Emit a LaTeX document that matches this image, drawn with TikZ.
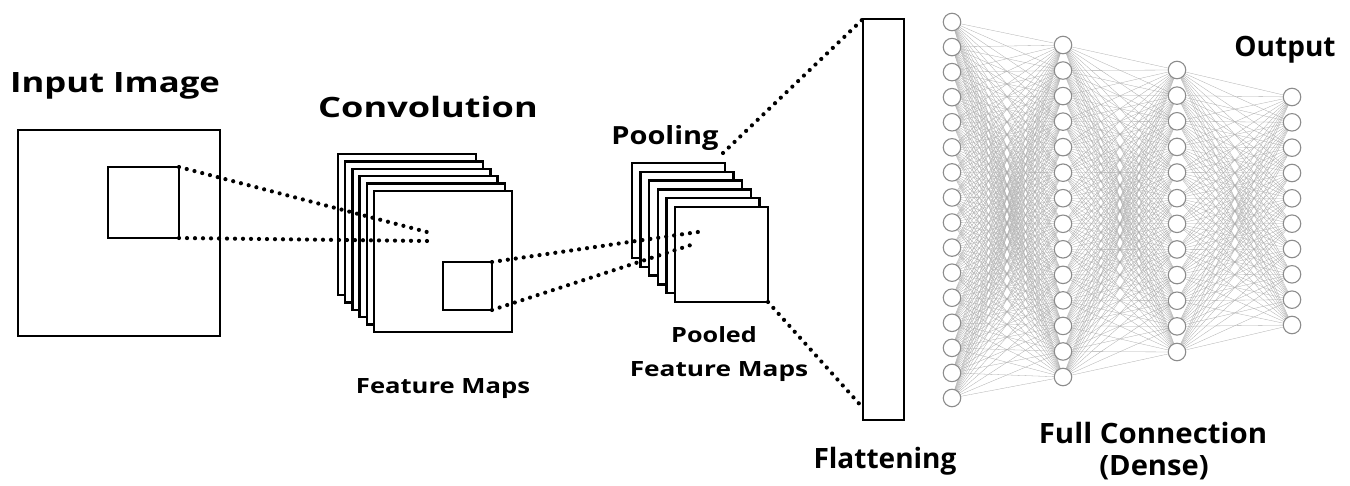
\documentclass[tikz,border=0pt]{standalone}
\usepackage{fontspec}
\setmainfont{Open Sans}
\usetikzlibrary{calc,positioning,backgrounds}

\tikzset{
  map/.style={draw, fill=white, line width=2.5pt, inner sep=0pt, outer sep=0pt},
  dots/.style={line width=4.2pt, line cap=round, dash pattern=on 0pt off 8pt},
  neuron/.style={circle, draw=black!45, fill=white, line width=1.1pt, minimum size=17.5pt, inner sep=0pt},
  synapse/.style={black!32, line width=0.3pt},
  heading/.style={font=\bfseries\fontsize{28}{30}\selectfont, inner sep=0pt, anchor=base},
  subheading/.style={font=\bfseries\fontsize{21}{24}\selectfont, inner sep=0pt, anchor=base}
}
% horizontally widened label text
\newcommand{\wide}[2]{\scalebox{#1}[1]{#2}}

\begin{document}
\begin{tikzpicture}[x=1pt,y=-1pt]
			\begin{scope}[on background layer]
				\fill[white] (0,0) rectangle (1350,486);
			\end{scope}
			\useasboundingbox (0,0) rectangle (1350,486);
			
			% input image with its receptive window
			\node[map, minimum width=202pt, minimum height=206pt] (img) at (119,233) {};
			\node[map, minimum width=71pt, minimum height=71pt] (win) at (143.5,202.5) {};
			
			% stacked feature maps
			\foreach \i in {0,...,5}
				\node[map, minimum width=138pt, minimum height=141pt] (conv\i) at ({407+7.2*\i},{224.5+7.4*\i}) {};
			\node[map, minimum width=49pt, minimum height=48pt] (kern) at (467.5,286) {};
			
			% pooled maps
			\foreach \i in {0,...,5}
				\node[map, minimum width=93pt, minimum height=95pt] (pool\i) at ({678.5+8.6*\i},{210.5+8.8*\i}) {};
			
			% flattened vector
			\node[map, minimum width=41pt, minimum height=401pt] (flat) at (883.5,219.5) {};
			
			\coordinate (c1) at (427,232);
			\coordinate (c2) at (427,241);
			\coordinate (p1) at (698,232);
			\coordinate (p2) at (697,243);
			\draw[dots] (win.north east) -- (c1);
			\draw[dots] (win.south east) -- (c2);
			\draw[dots] (kern.north east) -- (p1);
			\draw[dots] (kern.south east) -- (p2);
			\draw[dots] ($(pool0.north east)+(-2,-10)$) -- (flat.north west);
			\draw[dots] (pool5.south east) -- ($(flat.south west)+(0,-12)$);
			
			% dense layers: column x, neuron count, first and last y
			\foreach \n/\x/\k/\ya/\yb in {1/952/16/22/398, 2/1063/14/45/377, 3/1177/12/70/352, 4/1292/10/97/325}
				\foreach \j in {1,...,\k}
					\node[neuron] (n\n-\j) at (\x,{\ya+(\yb-\ya)*(\j-1)/(\k-1)}) {};
			
			\begin{scope}[on background layer]
				\foreach \a/\b/\ka/\kb in {1/2/16/14, 2/3/14/12, 3/4/12/10}
					\foreach \i in {1,...,\ka}
						\foreach \j in {1,...,\kb}
							\draw[synapse] (n\a-\i.center) -- (n\b-\j.center);
			\end{scope}
			
			\node[heading] (tin) at (115,93) {\wide{1.24}{Input Image}};
			\node[heading] (tconv) at (428,118) {\wide{1.29}{Convolution}};
			\node[heading, font=\bfseries\fontsize{25}{28}\selectfont] (tpool) at (665,145) {\wide{1.16}{Pooling}};
			\node[subheading] (tfm) at (443,393) {\wide{1.22}{Feature Maps}};
			\node[subheading] (tpooled) at (714,343) {\wide{1.2}{Pooled}};
			\node[subheading] (tpfm) at (719,377) {\wide{1.25}{Feature Maps}};
			\node[heading] (tflat) at (885,468) {Flattening};
			\node[heading] (tfull) at (1153,443) {\wide{1.05}{Full Connection}};
			\node[heading] (tdense) at (1154,475) {\wide{1.04}{(Dense)}};
			\node[heading] (tout) at (1285,57) {Output};
		\end{tikzpicture}
\end{document}
